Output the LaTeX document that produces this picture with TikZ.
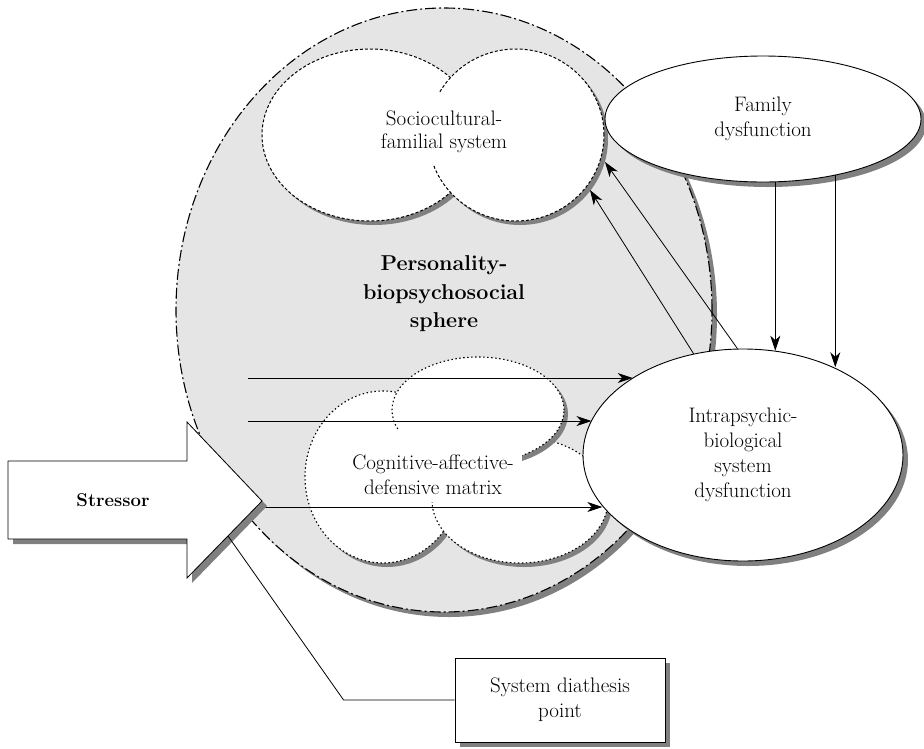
\documentclass[tikz,border=0pt]{standalone}
\usepackage{fontspec}
\usetikzlibrary{arrows.meta,shapes.geometric,shadows}
\definecolor{sphfill}{gray}{0.9}
\definecolor{shd}{gray}{0.5}
\tikzset{
 myshadow/.style={drop shadow={shadow xshift=5pt,shadow yshift=-5pt,fill=shd,opacity=1}},
 arr/.style={-{Stealth[length=15pt,width=10pt,inset=4.5pt]}, line width=0.8pt},
 lab/.style={font=\fontsize{21}{25}\selectfont, align=center, inner sep=0pt},
 boldlab/.style={font=\bfseries\fontsize{18.5}{25}\selectfont, align=center, inner sep=0pt},
 sphereline/.style={line width=1.1pt, dash pattern=on 11pt off 3pt on 2pt off 3pt},
 cloudA/.style={fill=white, line width=1pt, dash pattern=on 3pt off 2pt},
 cloudB/.style={fill=white, line width=1.1pt, dash pattern=on 1.5pt off 2.5pt},
 solidell/.style={ellipse, draw, fill=white, line width=0.9pt, inner sep=0pt, myshadow}
}
\begin{document}
\begin{tikzpicture}[x=1pt,y=-1pt]
\useasboundingbox (0,0) rectangle (924,748);
% sphere
\fill[shd] (449,315) ellipse [x radius=268pt, y radius=302pt];
\filldraw[fill=sphfill, sphereline] (444,310) ellipse [x radius=268pt, y radius=302pt];
% top cloud
\fill[shd] (374,139) ellipse [x radius=108pt, y radius=86pt];
\draw[cloudA] (370,135) ellipse [x radius=108pt, y radius=86pt];
\fill[shd] (520,139) ellipse [x radius=88pt, y radius=86pt];
\draw[cloudA] (516,135) ellipse [x radius=88pt, y radius=86pt];
\fill[white] (375,93) rectangle (515,164);
\node[lab, font=\fontsize{21}{23.5}\selectfont] (socio) at (444,132) {Sociocultural-\\familial system};
% bottom cloud
\fill[shd] (387,481) ellipse [x radius=78pt, y radius=86pt];
\fill[shd] (524,504) ellipse [x radius=88pt, y radius=63pt];
\draw[cloudB] (383,477) ellipse [x radius=78pt, y radius=86pt];
\draw[cloudB] (520,500) ellipse [x radius=88pt, y radius=63pt];
\fill[shd] (482,414) ellipse [x radius=86pt, y radius=53pt];
\draw[cloudB] (478,410) ellipse [x radius=86pt, y radius=53pt];
\fill[white] (338,430) rectangle (522,502);
\node[lab] (cog) at (433,475) {Cognitive-affective-\\defensive matrix};
% sphere label
\node[boldlab, font=\bfseries\fontsize{21.5}{28.5}\selectfont] (pers) at (444,294) {Personality-\\biopsychosocial\\sphere};
% family and intrapsychic
\node[solidell, minimum width=316pt, minimum height=126pt, lab] (fam) at (763,119) {Family\\dysfunction};
\node[solidell, minimum width=320pt, minimum height=212pt, lab] (intra) at (743,455) {Intrapsychic-\\biological\\system\\dysfunction};
% arrows
\coordinate (h1s) at (248,378);
\coordinate (h2s) at (248,421);
\coordinate (h3s) at (263,507);
\coordinate (d1e) at (590,190);
\coordinate (d2e) at (605,162);
\draw[arr] (h1s) -- (h1s -| intra.145);
\draw[arr] (h2s) -- (h2s -| intra.167);
\draw[arr] (h3s) -- (h3s -| intra.200);
\draw[arr] (fam.-79) -- (fam.-79 |- intra.73);
\draw[arr] (fam.-38) -- (fam.-38 |- intra.44);
\draw[arr] (intra.116) -- (d1e);
\draw[arr] (intra.93) -- (d2e);
% stressor
\filldraw[fill=white, line width=0.8pt, myshadow] (8,461) -- (187,461) -- (187,422) -- (262,501) -- (187,578) -- (187,539) -- (8,539) -- cycle;
\node[boldlab] (stress) at (113,500) {Stressor};
\coordinate (dpt) at (228,536);
% diathesis box
\node[draw, fill=white, line width=0.8pt, myshadow, minimum width=210pt, minimum height=84pt, lab] (diath) at (560,700) {System diathesis\\point};
\draw[line width=0.8pt] (diath.west) -- ++(-111,0) coordinate (bend) -- (dpt);
\end{tikzpicture}
\end{document}
